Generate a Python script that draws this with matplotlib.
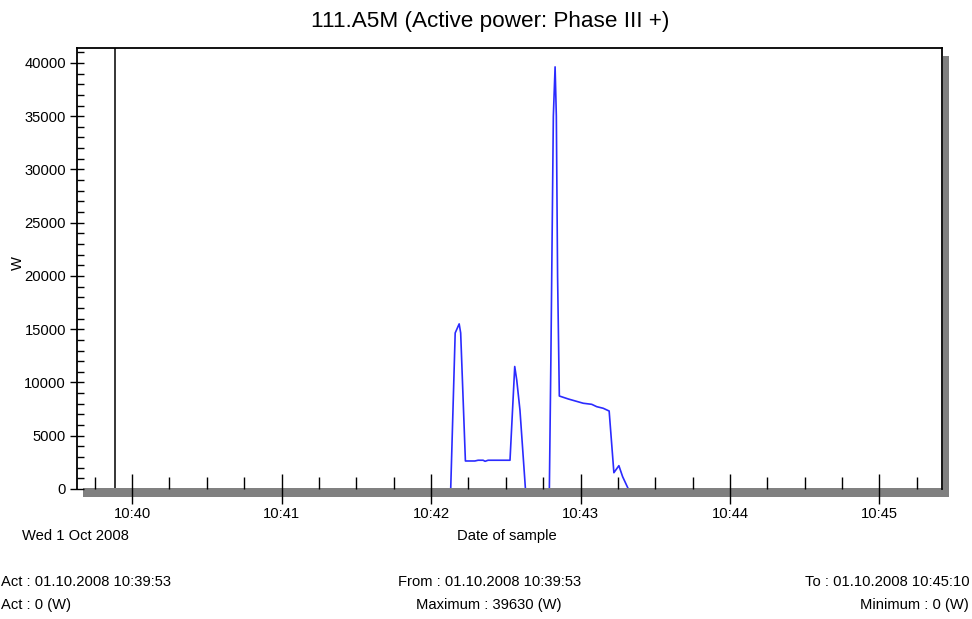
import matplotlib
matplotlib.use("Agg")
import matplotlib.pyplot as plt
from matplotlib.patches import Rectangle
from matplotlib.ticker import MultipleLocator, FixedLocator
import numpy as np

plt.rcParams['font.family'] = ['Liberation Sans', 'DejaVu Sans']

# ---- data (seconds after 10:40:00, power in W) ----
t_sec = [-7, 127.9, 129.7, 131.3, 131.9, 133.8, 137.6, 138.9, 140.9, 141.7, 142.9,
         151.7, 153.6, 154.4, 155.7, 157.9, 167.5, 168.1, 169.1, 169.8, 170.3, 170.8,
         171.5, 175.1, 181.1, 184.5, 186.5, 189.1, 191.5, 193.4, 195.4, 196.9, 199.2, 310]
power = [0, 0, 14650, 15500, 14650, 2630, 2630, 2700, 2700, 2600, 2700,
         2700, 11500, 10240, 7400, 0, 0, 12000, 35000, 39630, 35000, 20000,
         8730, 8450, 8050, 7950, 7730, 7580, 7320, 1530, 2190, 1160, 0, 0]
act_time = -7
x_tick_pos = [0, 60, 120, 180, 240, 300]
x_tick_labels = ['10:40', '10:41', '10:42', '10:43', '10:44', '10:45']

title = '111.A5M (Active power: Phase III +)'

W, H = 972, 619
fig = plt.figure(figsize=(W / 100, H / 100), dpi=100)
fig.patch.set_facecolor('white')

L, R, T, B = 77, 942, 48, 489
ax = fig.add_axes([L / W, (H - B) / H, (R - L) / W, (B - T) / H])
ax.set_xlim(-22.1, 325.1)
ax.set_ylim(0, 41400)
ax.set_axisbelow(False)

# zero stretches lie under the floor band, so hide them
p = np.array(power, dtype=float)
prev0 = np.r_[True, p[:-1] == 0]
next0 = np.r_[p[1:] == 0, True]
hidden = (p == 0) & prev0 & next0
ax.plot(t_sec, np.ma.masked_where(hidden, p), color='#2b2bff', lw=1.2, zorder=2)
ax.axvline(act_time, color='black', lw=1.1, zorder=2.1)

# shadow (3D effect) right and bottom
def fig_rect(x0, y0, x1, y1, **kw):
    r = Rectangle((x0 / W, (H - y1) / H), (x1 - x0) / W, (y1 - y0) / H,
                  transform=fig.transFigure, clip_on=False, **kw)
    ax.add_patch(r)

fig_rect(83, 487.6, 949, 497, facecolor='#808080', edgecolor='none', zorder=2.2)
fig_rect(943, 56, 949, 497, facecolor='#808080', edgecolor='none', zorder=2.2)

for s in ['top', 'left', 'right']:
    ax.spines[s].set_color('black')
    ax.spines[s].set_linewidth(1.3)
ax.spines['bottom'].set_visible(False)

FS = 10.6
# y ticks
ax.yaxis.set_major_locator(MultipleLocator(5000))
ax.yaxis.set_minor_locator(MultipleLocator(1000))
ax.tick_params(axis='y', which='major', direction='inout', length=10, width=1,
               labelsize=FS, pad=3)
ax.tick_params(axis='y', which='minor', direction='in', length=5, width=1)

# x ticks
ax.xaxis.set_major_locator(FixedLocator(x_tick_pos))
ax.set_xticklabels(x_tick_labels)
ax.xaxis.set_minor_locator(MultipleLocator(15))
ax.tick_params(axis='x', which='major', direction='inout', length=22, width=1,
               labelsize=FS, pad=2)
ax.tick_params(axis='x', which='minor', direction='in', length=9, width=1)

def ftext(x, y, s, **kw):
    fig.text(x / W, 1 - y / H, s, **kw)

ftext(490, 22, title, ha='center', va='center', fontsize=16.2)
ftext(18, 263, 'W', ha='center', va='center', fontsize=FS, rotation=90)
ftext(22, 536, 'Wed 1 Oct 2008', ha='left', va='center', fontsize=FS)
ftext(507, 536, 'Date of sample', ha='center', va='center', fontsize=FS)
ftext(1, 582, 'Act : 01.10.2008 10:39:53', ha='left', va='center', fontsize=FS)
ftext(1, 605, 'Act : 0 (W)', ha='left', va='center', fontsize=FS)
ftext(490, 582, 'From : 01.10.2008 10:39:53', ha='center', va='center', fontsize=FS)
ftext(489, 605, 'Maximum : 39630 (W)', ha='center', va='center', fontsize=FS)
ftext(970, 582, 'To : 01.10.2008 10:45:10', ha='right', va='center', fontsize=FS)
ftext(969, 605, 'Minimum : 0 (W)', ha='right', va='center', fontsize=FS)

fig.savefig('out.png', dpi=100)
